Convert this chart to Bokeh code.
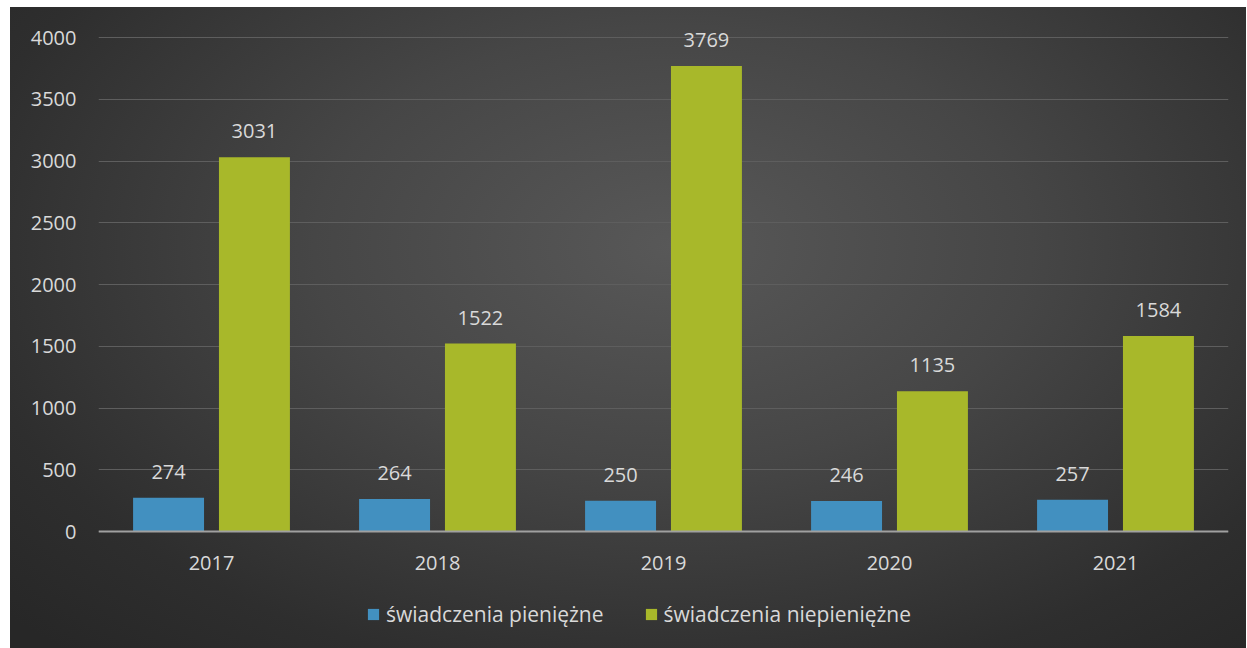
from bokeh.plotting import figure
from bokeh.models import ColumnDataSource, LabelSet, Legend, LegendItem, FixedTicker, FactorRange, Range1d
from bokeh.transform import dodge
from bokeh.core.properties import value
from bokeh.embed import file_html
from bokeh.resources import INLINE

years = ["2017", "2018", "2019", "2020", "2021"]
pieniezne = [274, 264, 250, 246, 257]
niepieniezne = [3031, 1522, 3769, 1135, 1584]
series_names = ["świadczenia pieniężne", "świadczenia niepieniężne"]
y_ticks = [0, 500, 1000, 1500, 2000, 2500, 3000, 3500, 4000]

FONT = "Open Sans"
TXT = "#d9d9d9"
BLUE = "#4290c0"
GREEN = "#a8b82a"

# layout: 494 px for the 0..4000 span; frame extends above and below it
PX_PER_UNIT = 494 / 4000
Y_START = -117 / PX_PER_UNIT
Y_END = 524 / PX_PER_UNIT

src = ColumnDataSource(dict(year=years, pien=pieniezne, niep=niepieniezne,
                            pien_lbl=[str(v) for v in pieniezne],
                            niep_lbl=[str(v) for v in niepieniezne]))

p = figure(frame_width=1130, frame_height=641, x_range=FactorRange(*years, range_padding=0),
           y_range=Range1d(Y_START, Y_END), output_backend="svg", toolbar_location=None,
           min_border_left=98, min_border_right=18, min_border_top=7, min_border_bottom=0)

p.styles = {"background": (
    "linear-gradient(#ffffff,#ffffff) left top / 100% 7px no-repeat, "
    "linear-gradient(#ffffff,#ffffff) left top / 10px 100% no-repeat, "
    "radial-gradient(ellipse 72% 85% at 54% 38%, #585858 0%, #464646 40%, #2e2e2e 80%, #272727 100%)")}
p.background_fill_alpha = 0
p.border_fill_alpha = 0
p.outline_line_color = None

r1 = p.vbar(x=dodge("year", -0.19, range=p.x_range), top="pien", width=0.314, source=src,
            fill_color=BLUE, line_color=None)
r2 = p.vbar(x=dodge("year", 0.19, range=p.x_range), top="niep", width=0.314, source=src,
            fill_color=GREEN, line_color=None)

for col, off in (("pien", -0.19), ("niep", 0.19)):
    lbl = LabelSet(x=dodge("year", off, range=p.x_range), y=col, text=col + "_lbl", source=src,
                   text_align="center", text_baseline="middle", y_offset=26,
                   text_font=value(FONT), text_font_size=value("20px"), text_color=value(TXT))
    p.add_layout(lbl)

p.yaxis.ticker = FixedTicker(ticks=y_ticks)
p.yaxis.axis_line_color = None
p.yaxis.major_tick_line_color = None
p.yaxis.minor_tick_line_color = None
p.yaxis.major_tick_out = 0
p.yaxis.major_label_standoff = 22
p.yaxis.major_label_text_font = FONT
p.yaxis.major_label_text_font_size = "20px"
p.yaxis.major_label_text_color = TXT

p.xaxis.fixed_location = 0
p.xaxis.axis_line_color = "#a0a0a0"
p.xaxis.axis_line_width = 2
p.xaxis.major_tick_line_color = None
p.xaxis.minor_tick_line_color = None
p.xaxis.major_tick_out = 0
p.xaxis.major_label_standoff = 24
p.xaxis.major_label_text_font = FONT
p.xaxis.major_label_text_font_size = "20px"
p.xaxis.major_label_text_color = TXT

p.xgrid.grid_line_color = None
p.ygrid.grid_line_color = "#5e5e5e"
p.ygrid.grid_line_width = 1

legend = Legend(items=[LegendItem(label=series_names[0], renderers=[r1]),
                       LegendItem(label=series_names[1], renderers=[r2])],
                orientation="horizontal", location=(268, 20),
                background_fill_alpha=0, border_line_color=None,
                label_text_font=FONT, label_text_font_size="21px", label_text_color=TXT,
                glyph_width=14, glyph_height=14, label_standoff=6, spacing=40,
                margin=0, padding=0)
p.add_layout(legend, "center")

open("out.html", "w").write(file_html(p, INLINE))
